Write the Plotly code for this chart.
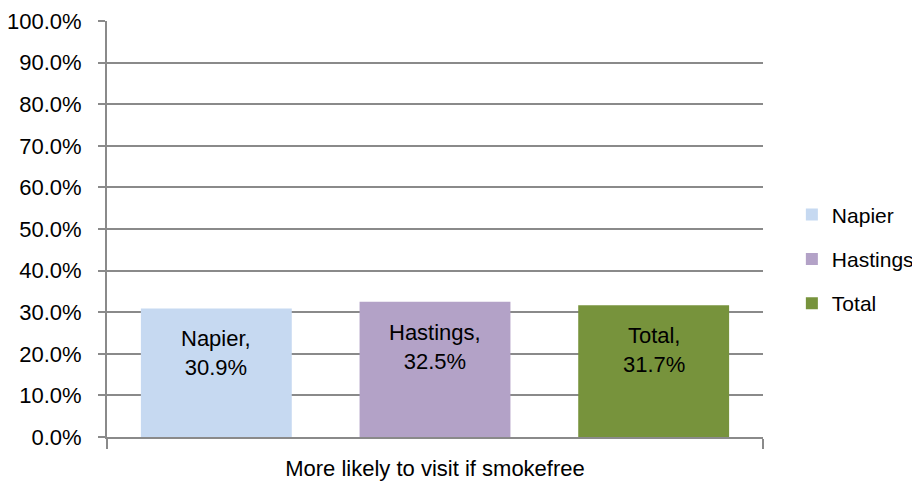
import plotly.graph_objects as go

x_axis_label = "More likely to visit if smokefree"
series_names = ["Napier", "Hastings", "Total"]
series_values = [0.309, 0.325, 0.317]
series_colors = ["#C6D9F1", "#B3A2C7", "#77933C"]
y_ticks = [0.0, 0.1, 0.2, 0.3, 0.4, 0.5, 0.6, 0.7, 0.8, 0.9, 1.0]

FONT = "Liberation Sans, Arial, sans-serif"
GRID = "#8A8A8A"

fig = go.Figure()
for i, (name, val, col) in enumerate(zip(series_names, series_values, series_colors)):
    fig.add_trace(go.Bar(
        name=name,
        legendgroup=name,
        x=[i],
        y=[val],
        width=0.69,
        marker=dict(color=col, line=dict(width=0)),
        hoverinfo="skip",
    ))
    fig.add_annotation(
        x=i, y=val, xref="x", yref="y",
        text=f"{name},<br>{val*100:.1f}%",
        showarrow=False, yanchor="top", yshift=-16,
        font=dict(family=FONT, size=22, color="#000000"),
    )

# The page body adds an 8px offset, so the figure is 8px smaller
# and its margins 8px tighter on the left/top.
fig.update_layout(
    width=912, height=476,
    margin=dict(l=99, r=157, t=13, b=47, autoexpand=False),
    paper_bgcolor="white", plot_bgcolor="white",
    barmode="overlay",
    font=dict(family=FONT, size=22, color="#000000"),
    showlegend=True,
    legend=dict(
        x=1.044, xanchor="left", y=0.428, yanchor="middle",
        font=dict(family=FONT, size=21, color="#000000"),
        itemwidth=30, tracegroupgap=14,
        borderwidth=0,
        bgcolor="rgba(0,0,0,0)",
    ),
)

fig.update_yaxes(
    range=[0, 1],
    tickvals=y_ticks,
    tickformat=".1%",
    showgrid=True, gridcolor=GRID, gridwidth=2,
    showline=True, linecolor=GRID, linewidth=2,
    ticks="outside", ticklen=7, tickcolor=GRID, tickwidth=2,
    ticklabelstandoff=12,
    zeroline=False,
    automargin=False,
    tickfont=dict(family=FONT, size=22, color="#000000"),
    fixedrange=True,
)
fig.update_xaxes(
    range=[-0.5, len(series_names) - 0.5],
    tickvals=[-0.5, len(series_names) - 0.5],
    ticktext=["", ""],
    showline=True, linecolor=GRID, linewidth=2,
    ticks="outside", ticklen=10, tickcolor=GRID, tickwidth=2,
    showgrid=False, zeroline=False,
    automargin=False,
    title=dict(text=x_axis_label, standoff=8,
               font=dict(family=FONT, size=22, color="#000000")),
    fixedrange=True,
)

fig.write_html("out.html")
